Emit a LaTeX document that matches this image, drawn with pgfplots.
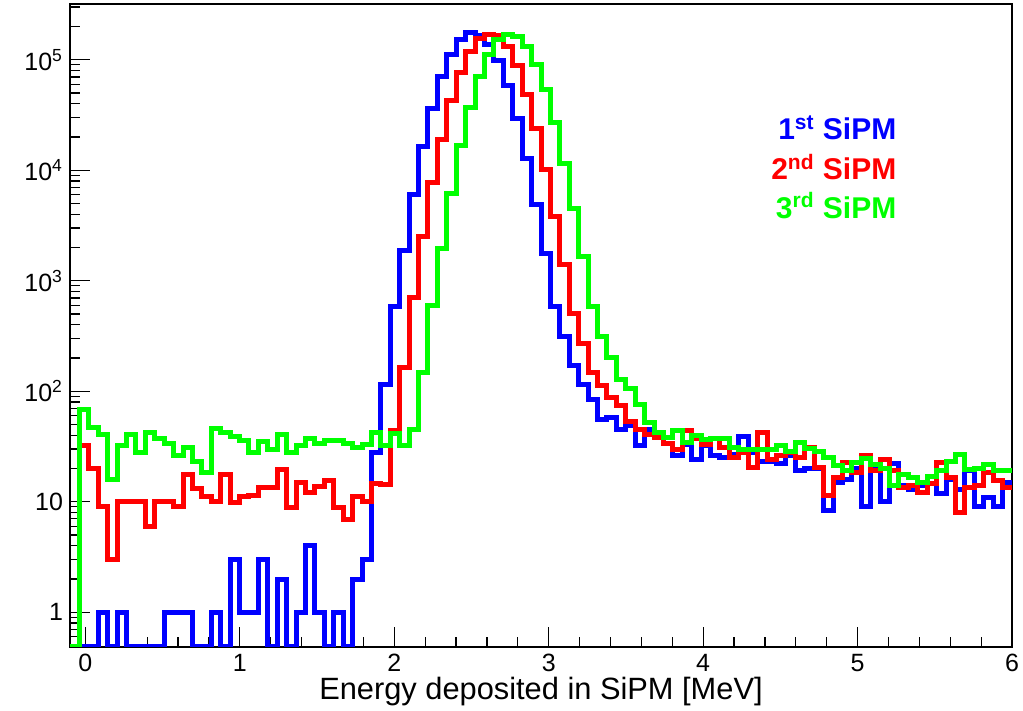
\documentclass[border=0pt]{standalone}
\usepackage{fontspec}
\setmainfont{Liberation Sans}
\usepackage{pgfplots}
\usepackage{pgfplotstable}
\pgfplotsset{compat=1.18}

% bin left edges (100 bins, -0.1 .. 6.0 MeV); empty bins sit on ymin
\pgfplotstableread{
x blue red green
-0.100 0.485 0.485 0.485
-0.039 0.485 32 68
0.022 0.485 20 47
0.083 1 9 41
0.144 0.485 3 16
0.205 1 10 32
0.266 0.485 10 41
0.327 0.485 10 28
0.388 0.485 6 42
0.449 0.485 10 37
0.510 1 10 34
0.571 1 9 26
0.632 1 17.5 31
0.693 0.485 13.2 23
0.754 0.485 11.2 18.6
0.815 1 10 46
0.876 0.485 17.5 42
0.937 3 9.9 39
0.998 1 11.2 35.6
1.059 1 11.5 28
1.120 3 13.4 34.8
1.181 0.485 13.4 29.9
1.242 2 19.7 41
1.303 0.485 8.8 28.2
1.364 1 14.9 32
1.425 4 12.1 37.4
1.486 1 13.7 33.9
1.547 0.485 15.7 35.6
1.608 1 8.9 36
1.669 0.485 6.9 33.5
1.730 2 11.2 31
1.791 3 10 32.8
1.852 28 14.5 42.5
1.913 114 14.3 32.5
1.974 580 44 41.7
2.035 1870 165 32.5
2.096 6100 700 45.5
2.157 16300 2500 149
2.218 36500 7700 600
2.279 70000 19100 1970
2.340 111000 42400 6220
2.401 152000 76700 16800
2.462 175000 118000 36800
2.523 166000 157000 70000
2.584 139000 171000 111000
2.645 98000 165000 152000
2.706 58000 132000 169000
2.767 29500 88000 164000
2.828 12700 48700 133000
2.889 4870 23800 91000
2.950 1770 10100 54000
3.011 580 3820 26900
3.072 310 1390 11600
3.133 171 504 4540
3.194 116 269 1650
3.255 84 149 580
3.316 55 112 310
3.377 58 88 204
3.438 45 75 129
3.499 49 53 105
3.560 32 45 76
3.621 45 41 52
3.682 39.5 38 42.4
3.743 34 34 38.2
3.804 26 30 43.9
3.865 33 44 34.4
3.926 24 37 39.6
3.987 32 33 36.8
4.048 26 37 37.3
4.109 25 31 37.3
4.170 27 25 31
4.231 39 28 29.9
4.292 28 20.4 29.9
4.353 23 42 29.5
4.414 23 24 29.5
4.475 22 26 32
4.536 26 28 28.3
4.597 19 25 34.4
4.658 20 31 30.3
4.719 20 20.4 28.7
4.780 8.3 11.3 25.1
4.841 15 16.5 21.1
4.902 16 22.6 19
4.963 20 18.3 22.6
5.024 9 26 24.7
5.085 20 19 21.8
5.146 10 24 19.9
5.207 22 19 13.9
5.268 14 13.4 17.7
5.329 13 13.9 16.5
5.390 14 12.1 14.9
5.451 14.5 14.5 17.1
5.512 12 22.6 19
5.573 16 16.5 23
5.634 13 8 26.9
5.695 19 13.4 19.4
5.756 9 13.9 19.9
5.817 11 18.3 21.8
5.878 9 15.6 19.2
5.939 15 13.4 19.2
6.000 15 13.4 19.2
}\hist

\begin{document}
\begin{tikzpicture}
\begin{axis}[
    scale only axis,
    width=471pt, height=321.5pt,
    ymode=log,
    xmin=-0.1, xmax=6,
    ymin=0.485, ymax=3.2e5,
    axis line style={black, line width=1.2pt},
    tick align=inside,
    xtick pos=lower, ytick pos=left,
    tick style={black, line width=0.6pt},
    major tick length=10pt, minor tick length=5pt,
    xtick={0,1,2,3,4,5,6},
    xticklabels={0,1,2,3,4,5,6},
    minor x tick num=4,
    ytick={1,10,100,1000,10000,100000},
    yticklabels={1,10,10\textsuperscript{2},10\textsuperscript{3},10\textsuperscript{4},10\textsuperscript{5}},
    minor ytick={0.5,0.6,0.7,0.8,0.9,2,3,4,5,6,7,8,9,20,30,40,50,60,70,80,90,
        200,300,400,500,600,700,800,900,2000,3000,4000,5000,6000,7000,8000,9000,
        20000,30000,40000,50000,60000,70000,80000,90000,200000,300000},
    ticklabel style={font=\fontsize{12.5}{15}\selectfont},
    xlabel={Energy deposited in SiPM [MeV]},
    xlabel style={font=\fontsize{15.4}{18}\selectfont,
        at={(axis description cs:0.5,-0.0824)}, anchor=base},
    clip=true,
]
\addplot[blue, line width=2.5pt, const plot mark left, line join=miter] table[x=x, y=blue] {\hist};
\addplot[red, line width=2.5pt, const plot mark left, line join=miter] table[x=x, y=red] {\hist};
\addplot[green, line width=2.5pt, const plot mark left, line join=miter] table[x=x, y=green] {\hist};

\node[anchor=base east, blue, font=\fontsize{15}{18}\selectfont\bfseries, inner sep=0pt]
    at (rel axis cs:0.8776,0.7885) {1\textsuperscript{st} SiPM};
\node[anchor=base east, red, font=\fontsize{15}{18}\selectfont\bfseries, inner sep=0pt]
    at (rel axis cs:0.8776,0.7263) {2\textsuperscript{nd} SiPM};
\node[anchor=base east, green, font=\fontsize{15}{18}\selectfont\bfseries, inner sep=0pt]
    at (rel axis cs:0.8776,0.667) {3\textsuperscript{rd} SiPM};
\end{axis}
\pgfresetboundingbox
\path[use as bounding box] (current axis.south west) ++(-35pt,-32pt) rectangle ++(511.5pt,355.5pt);
\end{tikzpicture}
\end{document}
